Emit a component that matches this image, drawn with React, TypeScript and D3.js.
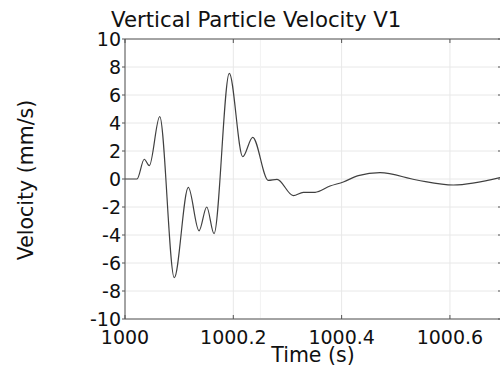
import React from "react";
import * as d3 from "d3";

const times = [
  1000.0, 1000.0222, 1000.0356, 1000.0449, 1000.0641, 1000.091, 1000.1169,
  1000.1367, 1000.1509, 1000.1644, 1000.1926, 1000.2174, 1000.2358, 1000.2646,
  1000.2807, 1000.3108, 1000.3293, 1000.3509, 1000.3786, 1000.4031, 1000.4308,
  1000.4709, 1000.5387, 1000.6063, 1000.6925,
];
const velocity = [
  0, 0, 1.41, 0.95, 4.45, -7.05, -0.6, -3.7, -2.0, -3.9, 7.55, 1.6, 2.98, -0.1,
  -0.03, -1.19, -0.95, -0.95, -0.5, -0.21, 0.24, 0.45, -0.07, -0.43, 0.1,
];
const xTicks = [1000, 1000.2, 1000.4, 1000.6];
const xTickLabels = ["1000", "1000.2", "1000.4", "1000.6"];
const yTicks = [-10, -8, -6, -4, -2, 0, 2, 4, 6, 8, 10];
const title = "Vertical Particle Velocity V1";
const xLabel = "Time (s)";
const yLabel = "Velocity (mm/s)";

const W = 500;
const H = 367;
const left = 125;
const right = 503;
const top = 39;
const bottom = 319;
const font = "'DejaVu Sans', sans-serif";

export default function App() {
  const x = d3.scaleLinear().domain([1000, 1000.698]).range([left, right]);
  const y = d3.scaleLinear().domain([-10, 10]).range([bottom, top]);
  const data = times.map((t, i) => [t, velocity[i]] as [number, number]);
  const line = d3
    .line<[number, number]>()
    .x((d) => x(d[0]))
    .y((d) => y(d[1]))
    .curve(d3.curveMonotoneX);

  return (
    <svg
      width={W}
      height={H}
      style={{ position: "absolute", left: 0, top: 0, background: "#fff" }}
    >
      <rect x={0} y={0} width={W} height={H} fill="#fff" />
      {yTicks.map((v) => (
        <line key={"gy" + v} x1={left} x2={right} y1={y(v)} y2={y(v)} stroke="#e8e8e8" strokeWidth={1} />
      ))}
      {xTicks.map((t) => (
        <line key={"gx" + t} x1={x(t)} x2={x(t)} y1={top} y2={bottom} stroke="#e8e8e8" strokeWidth={1} />
      ))}
      <line x1={x(1000.25)} x2={x(1000.25)} y1={top} y2={bottom} stroke="#f2f2f2" strokeWidth={1} />
      <path d={line(data) || ""} fill="none" stroke="#404040" strokeWidth={1.2} />
      <line x1={left} x2={right} y1={top} y2={top} stroke="#555" strokeWidth={1} />
      <line x1={left} x2={right} y1={bottom} y2={bottom} stroke="#555" strokeWidth={1} />
      <line x1={left} x2={left} y1={top} y2={bottom} stroke="#555" strokeWidth={1} />
      <line x1={right - 1} x2={right - 1} y1={top} y2={bottom} stroke="#555" strokeWidth={1} />
      {xTicks.map((t) => (
        <g key={"tx" + t}>
          <line x1={x(t)} x2={x(t)} y1={bottom} y2={bottom - 4} stroke="#555" />
          <line x1={x(t)} x2={x(t)} y1={top} y2={top + 4} stroke="#555" />
        </g>
      ))}
      {yTicks.map((v) => (
        <g key={"ty" + v}>
          <line x1={left - 3} x2={left} y1={y(v)} y2={y(v)} stroke="#555" />
          <line x1={right - 5} x2={right - 1} y1={y(v)} y2={y(v)} stroke="#555" />
        </g>
      ))}
      {xTicks.map((t, i) => (
        <text key={"lx" + t} x={x(t)} y={344} textAnchor="middle" fontFamily={font} fontSize={19} fill="#111">
          {xTickLabels[i]}
        </text>
      ))}
      {yTicks.map((v) => (
        <text key={"ly" + v} x={121} y={y(v)} dy="0.36em" textAnchor="end" fontFamily={font} fontSize={19} fill="#111">
          {String(v)}
        </text>
      ))}
      <text x={111} y={27} fontFamily={font} fontSize={21.3} fill="#111">
        {title}
      </text>
      <text x={313} y={362} textAnchor="middle" fontFamily={font} fontSize={20.5} fill="#111">
        {xLabel}
      </text>
      <text
        transform={`translate(33,${180}) rotate(-90)`}
        textAnchor="middle"
        fontFamily={font}
        fontSize={20.5}
        fill="#111"
      >
        {yLabel}
      </text>
    </svg>
  );
}
